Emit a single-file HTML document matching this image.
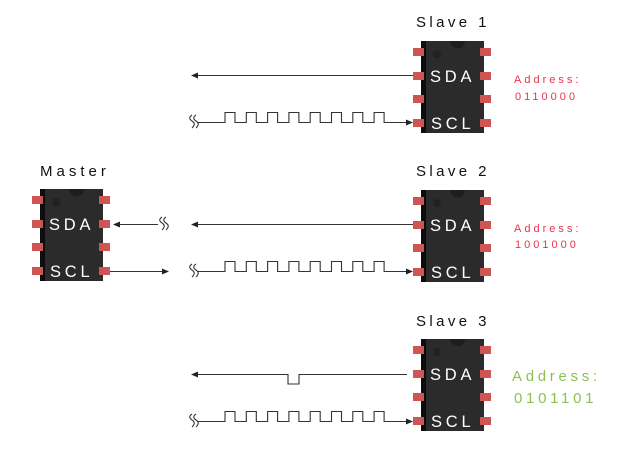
<!DOCTYPE html>
<html><head><meta charset="utf-8"><style>
html,body{margin:0;padding:0;background:#fff;}
svg{display:block;}
text{font-family:"Liberation Sans",sans-serif;}
</style></head><body>
<svg width="624" height="452" viewBox="0 0 624 452" xmlns="http://www.w3.org/2000/svg">
<defs>
<g id="chip">
  <rect x="0" y="0" width="63" height="92" fill="#2b2b2b"/>
  <rect x="0" y="0" width="5" height="92" fill="#0d0d0d"/>
  <path d="M29 0 a7.5 7.5 0 0 0 15 0 z" fill="#1e1e1e"/>
  <circle cx="16" cy="13" r="4" fill="#222"/>
  <rect x="-8" y="7" width="11" height="8" fill="#cf5555"/>
  <rect x="-8" y="31" width="11" height="8" fill="#cf5555"/>
  <rect x="-8" y="54" width="11" height="8" fill="#cf5555"/>
  <rect x="-8" y="78" width="11" height="8" fill="#cf5555"/>
  <rect x="59" y="7" width="11" height="8" fill="#cf5555"/>
  <rect x="59" y="31" width="11" height="8" fill="#cf5555"/>
  <rect x="59" y="54" width="11" height="8" fill="#cf5555"/>
  <rect x="59" y="78" width="11" height="8" fill="#cf5555"/>
  <text x="9" y="41" fill="#fff" font-size="16.5" letter-spacing="3.8">SDA</text>
  <text x="10" y="88" fill="#fff" font-size="16.5" letter-spacing="3.8">SCL</text>
</g>
<g id="sq" fill="none" stroke="#333" stroke-width="1.1">
  <path d="M-2,-7 c-3,2 -3,4 0,6 s3,4 0,7"/>
  <path d="M2,-7 c-3,2 -3,4 0,6 s3,4 0,7"/>
</g>
</defs>

<!-- Titles -->
<text x="416" y="27" font-size="15" letter-spacing="3.4" fill="#111">Slave 1</text>
<text x="416" y="176" font-size="15" letter-spacing="3.4" fill="#111">Slave 2</text>
<text x="416" y="326" font-size="15" letter-spacing="3.4" fill="#111">Slave 3</text>
<text x="40" y="176" font-size="15" letter-spacing="4" fill="#111">Master</text>

<!-- Chips -->
<use href="#chip" x="421" y="41"/>
<use href="#chip" x="421" y="190"/>
<use href="#chip" x="421" y="339"/>
<use href="#chip" x="40" y="189"/>

<!-- Addresses -->
<text x="514" y="83" font-size="11" letter-spacing="3" fill="#e8334a">Address:</text>
<text x="515" y="100" font-size="11" letter-spacing="3" fill="#e8334a">0110000</text>
<text x="514" y="232" font-size="11" letter-spacing="3" fill="#e8334a">Address:</text>
<text x="515" y="248" font-size="11" letter-spacing="3" fill="#e8334a">1001000</text>
<text x="512" y="381" font-size="15" letter-spacing="3.7" fill="#8cc152">Address:</text>
<text x="514" y="403" font-size="15" letter-spacing="3.7" fill="#8cc152">0101101</text>

<g stroke="#333" stroke-width="1.1" fill="none">
  <line x1="413" y1="75.5" x2="196" y2="75.5"/>
  <line x1="413" y1="224.5" x2="196" y2="224.5"/>
  <path d="M407,374.5 H299 V384 H288 V374.5 H196"/>
  <line x1="158" y1="224.5" x2="118" y2="224.5"/>
  <line x1="110" y1="271.5" x2="163" y2="271.5"/>
  <path d="M198,122.5 H225 V112.5 H235 V122.5 H246.3 V112.5 H256.3 V122.5 H267.6 V112.5 H277.6 V122.5 H288.9 V112.5 H298.9 V122.5 H310.2 V112.5 H320.2 V122.5 H331.5 V112.5 H341.5 V122.5 H352.8 V112.5 H362.8 V122.5 H374.1 V112.5 H384.1 V122.5 H408"/>
  <path d="M198,271.5 H225 V261.5 H235 V271.5 H246.3 V261.5 H256.3 V271.5 H267.6 V261.5 H277.6 V271.5 H288.9 V261.5 H298.9 V271.5 H310.2 V261.5 H320.2 V271.5 H331.5 V261.5 H341.5 V271.5 H352.8 V261.5 H362.8 V271.5 H374.1 V261.5 H384.1 V271.5 H408"/>
  <path d="M198,421.5 H225 V411.5 H235 V421.5 H246.3 V411.5 H256.3 V421.5 H267.6 V411.5 H277.6 V421.5 H288.9 V411.5 H298.9 V421.5 H310.2 V411.5 H320.2 V421.5 H331.5 V411.5 H341.5 V421.5 H352.8 V411.5 H362.8 V421.5 H374.1 V411.5 H384.1 V421.5 H408"/>
</g>

<g fill="#222">
  <path d="M191,75.5 L198,72.5 L198,78.5 Z"/>
  <path d="M191,224.5 L198,221.5 L198,227.5 Z"/>
  <path d="M191,374.5 L198,371.5 L198,377.5 Z"/>
  <path d="M113,224.5 L120,221.5 L120,227.5 Z"/>
  <path d="M169,271.5 L162,268.5 L162,274.5 Z"/>
  <path d="M413,122.5 L406,119.5 L406,125.5 Z"/>
  <path d="M413,271.5 L406,268.5 L406,274.5 Z"/>
  <path d="M413,421.5 L406,418.5 L406,424.5 Z"/>
</g>

<use href="#sq" x="194" y="122"/>
<use href="#sq" x="194" y="271"/>
<use href="#sq" x="194" y="421"/>
<use href="#sq" x="164" y="224"/>
</svg>
</body></html>
